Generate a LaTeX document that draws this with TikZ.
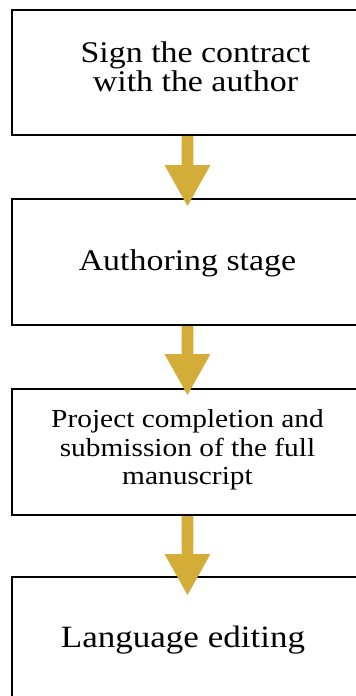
\documentclass[tikz,border=0pt]{standalone}
\usepackage{fontspec}
\setmainfont{Liberation Serif}[FakeStretch=1.13]
\usetikzlibrary{calc}
\definecolor{arrowgold}{RGB}{212,172,56}
\tikzset{
  flowbox/.style={draw=black, line width=2pt, fill=white, rectangle,
    minimum width=351pt, minimum height=126pt, align=center, inner sep=0pt},
}
\newcommand{\goldarrow}[3]{%
  \path (#1.south) coordinate (s) (#2.north) ++(0,#3) coordinate (e);
  \fill[arrowgold] ($(s)+(-5.8,0)$) -- ($(e)+(-5.8,-41)$) -- ($(e)+(-23,-41)$)
    -- (e) -- ($(e)+(23,-41)$) -- ($(e)+(5.8,-41)$) -- ($(s)+(5.8,0)$) -- cycle;}
\begin{document}
\begin{tikzpicture}[x=1pt,y=-1pt]
\useasboundingbox (0,0) rectangle (356,696);
\fill[white] (0,0) rectangle (356,696);
\node[flowbox, minimum height=125pt, text depth=12pt,
  font=\fontsize{30}{26}\selectfont] (b1) at (187.5,72.5)
  {\hspace*{16pt}Sign the contract\\\hspace*{16pt}with the author};
\node[flowbox, text depth=4pt, font=\fontsize{30}{30}\selectfont] (b2) at (187.5,262)
  {Authoring stage};
\node[flowbox, text depth=10pt, font=\fontsize{26}{28.5}\selectfont] (b3) at (187.5,452)
  {Project completion and\\submission of the full\\manuscript};
\node[flowbox, font=\fontsize{31}{31}\selectfont] (b4) at (187.5,640)
  {\hspace*{-9pt}Language editing};
\goldarrow{b1}{b2}{8}
\goldarrow{b2}{b3}{7}
\goldarrow{b3}{b4}{19}
\end{tikzpicture}
\end{document}
